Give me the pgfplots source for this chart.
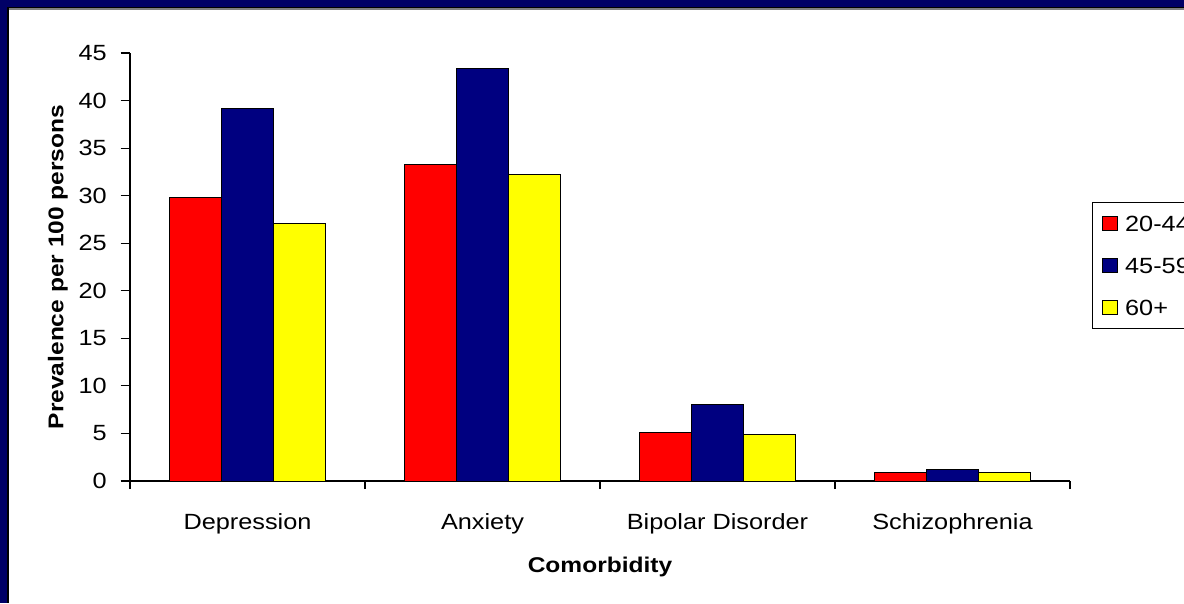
\documentclass[border=0pt]{standalone}
\usepackage{fontspec}
\setmainfont{Liberation Sans}[FakeStretch=1.15]
\usepackage{pgfplots}
\pgfplotsset{compat=1.18}
\definecolor{band}{RGB}{0,0,102}
\definecolor{barred}{RGB}{255,0,0}
\definecolor{barnavy}{RGB}{0,0,128}
\definecolor{baryellow}{RGB}{255,255,0}
\begin{document}
\begin{tikzpicture}
\useasboundingbox (0pt,0pt) rectangle (888pt,452.25pt);
\fill[band] (0pt,0pt) rectangle (888pt,452.25pt);
\fill[black] (5.25pt,0pt) rectangle (888pt,447pt);
\fill[gray] (6.4pt,0pt) rectangle (888pt,445.9pt);
\fill[white] (7.1pt,0pt) rectangle (888pt,445.1pt);
\begin{axis}[
  at={(97.5pt,91.5pt)}, anchor=south west,
  width=705pt, height=321pt, scale only axis,
  ybar, bar width=0.22,
  legend image code/.code={\draw[#1,line width=0.75pt] (0pt,-5.4pt) rectangle (11pt,5.4pt);},
  axis lines*=left,
  axis line style={black, line width=0.9pt},
  xmin=-0.5, xmax=3.5, ymin=0, ymax=45,
  xtick={0,1,2,3},
  xticklabels={Depression,Anxiety,Bipolar Disorder,Schizophrenia},
  minor xtick={-0.5,0.5,1.5,2.5,3.5},
  ytick={0,5,...,45},
  tick align=outside,
  major tick length=7pt,
  minor tick length=6pt,
  major x tick style={draw=none},
  tick style={black, line width=0.9pt},
  /pgf/number format/assume math mode=true,
  ticklabel style={font=\fontsize{16.5}{19}\selectfont},
  xticklabel style={anchor=base, yshift=-29.5pt},
  yticklabel style={anchor=east, inner sep=0pt, xshift=-10.25pt},
  xlabel={Comorbidity},
  ylabel={Prevalence per 100 persons},
  label style={font=\fontsize{16}{19}\selectfont\bfseries},
  xlabel style={at={(axis description cs:0.5,0)}, anchor=base, yshift=-68.25pt},
  ylabel style={at={(axis description cs:0,0.5)}, anchor=base, yshift=49.9pt},
  legend style={at={(axis description cs:1.0229,0.6522)}, anchor=north west,
    draw=black, line width=0.9pt, inner xsep=7.5pt, inner ysep=10pt,
    row sep=20pt, font=\fontsize{16.5}{19}\selectfont,
    nodes={inner sep=0pt, text height=11.5pt, text depth=0pt},
    /tikz/every odd column/.append style={column sep=5.5pt}},
  legend cell align=left,
]
\addplot[fill=barred, draw=black, line width=0.75pt, bar shift=-0.22] coordinates {(0,29.8) (1,33.3) (2,5.1) (3,0.9)};
\addplot[fill=barnavy, draw=black, line width=0.75pt, bar shift=0] coordinates {(0,39.2) (1,43.4) (2,8.0) (3,1.2)};
\addplot[fill=baryellow, draw=black, line width=0.75pt, bar shift=0.22] coordinates {(0,27.1) (1,32.2) (2,4.9) (3,0.9)};
\legend{20-44,45-59,60+}
\end{axis}
\end{tikzpicture}
\end{document}
